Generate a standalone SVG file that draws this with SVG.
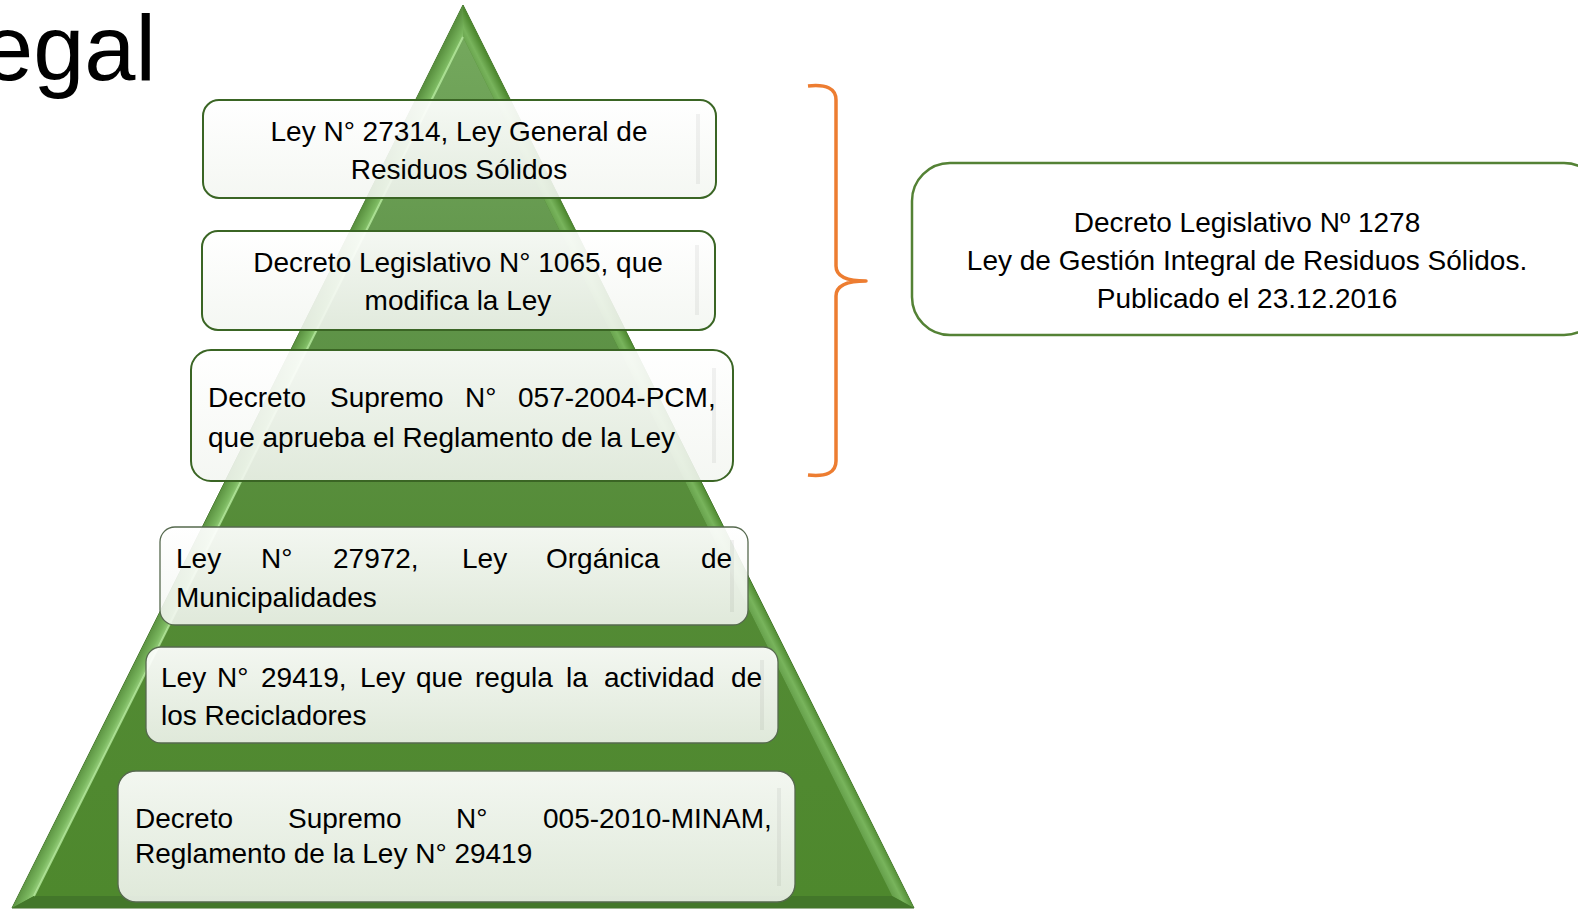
<svg xmlns="http://www.w3.org/2000/svg" width="1578" height="912" viewBox="0 0 1578 912">
<style>
.t{font-family:"Liberation Sans",Arial,sans-serif;font-size:28px;fill:#000}
.c{text-anchor:middle}
.bx{fill:url(#boxFill);stroke:#3a6524;stroke-width:2}
.bx2{fill:url(#boxFill);stroke:#56694e;stroke-width:1.3}
.sh{fill:#000;fill-opacity:0.05}
</style>
<defs>
<linearGradient id="inner" x1="0" y1="37" x2="0" y2="896" gradientUnits="userSpaceOnUse">
<stop offset="0" stop-color="#74a85d"/>
<stop offset="0.3" stop-color="#60944a"/>
<stop offset="0.6" stop-color="#548b36"/>
<stop offset="1" stop-color="#4e882d"/>
</linearGradient>
<linearGradient id="leftF" x1="237.5" y1="456.5" x2="254" y2="464.8" gradientUnits="userSpaceOnUse">
<stop offset="0" stop-color="#5a9140"/>
<stop offset="0.55" stop-color="#79b65e"/>
<stop offset="1" stop-color="#a9de8f"/>
</linearGradient>
<linearGradient id="rightF" x1="688.5" y1="456.5" x2="672" y2="464.8" gradientUnits="userSpaceOnUse">
<stop offset="0" stop-color="#4f8a31"/>
<stop offset="0.45" stop-color="#78b45c"/>
<stop offset="1" stop-color="#5d9643"/>
</linearGradient>
<linearGradient id="boxFill" x1="0" y1="0" x2="0" y2="1">
<stop offset="0" stop-color="#ffffff" stop-opacity="0.93"/>
<stop offset="1" stop-color="#f3f6f1" stop-opacity="0.88"/>
</linearGradient>
</defs>

<g id="title">
<text x="-18" y="80" style="font-family:'Liberation Sans',Arial,sans-serif;font-size:92px;fill:#000">egal</text>
</g>

<g id="pyramid">
<polygon points="463,5 12,908 914,908" fill="#4f8a30" stroke="#3d6b24" stroke-width="1"/>
<polygon points="463,5 12,908 34,896 463,37" fill="url(#leftF)"/>
<polygon points="463,5 463,37 892,896 914,908" fill="url(#rightF)"/>
<polygon points="12,908 914,908 892,896 34,896" fill="#43772a"/>
<polygon points="463,37 34,896 892,896" fill="url(#inner)"/>
<line x1="463" y1="37" x2="34" y2="896" stroke="#b8eba0" stroke-width="2" stroke-opacity="0.8"/>
</g>

<g id="node1">
<rect class="bx" x="203" y="100" width="513" height="98" rx="16"/>
<rect class="sh" x="696" y="114" width="4" height="70"/>
<text class="t c" x="459" y="141">Ley N° 27314, Ley General de</text>
<text class="t c" x="459" y="179">Residuos Sólidos</text>
</g>

<g id="node2">
<rect class="bx" x="202" y="231" width="513" height="99" rx="16"/>
<rect class="sh" x="695" y="245" width="4" height="70"/>
<text class="t c" x="458" y="272">Decreto Legislativo N° 1065, que</text>
<text class="t c" x="458" y="310">modifica la Ley</text>
</g>

<g id="node3">
<rect class="bx" x="191" y="350" width="542" height="131" rx="20"/>
<rect class="sh" x="712" y="368" width="4" height="95"/>
<text class="t" y="407"><tspan x="208">Decreto</tspan><tspan x="330">Supremo</tspan><tspan x="465">N°</tspan><tspan x="518">057-2004-PCM,</tspan></text>
<text class="t" x="208" y="447">que aprueba el Reglamento de la Ley</text>
</g>

<g id="node4">
<rect class="bx2" x="160" y="527" width="588" height="98" rx="15"/>
<rect class="sh" x="730" y="540" width="4" height="72"/>
<text class="t" y="568"><tspan x="176">Ley</tspan><tspan x="261">N°</tspan><tspan x="333">27972,</tspan><tspan x="462">Ley</tspan><tspan x="546">Orgánica</tspan><tspan x="701">de</tspan></text>
<text class="t" x="176" y="607">Municipalidades</text>
</g>

<g id="node5">
<rect class="bx2" x="146" y="647" width="632" height="96" rx="15"/>
<rect class="sh" x="760" y="660" width="4" height="70"/>
<text class="t" y="687"><tspan x="161">Ley</tspan><tspan x="217">N°</tspan><tspan x="261">29419,</tspan><tspan x="360">Ley</tspan><tspan x="416">que</tspan><tspan x="475">regula</tspan><tspan x="566">la</tspan><tspan x="604">actividad</tspan><tspan x="731">de</tspan></text>
<text class="t" x="161" y="725">los Recicladores</text>
</g>

<g id="node6">
<rect class="bx2" x="118" y="771" width="677" height="131" rx="18"/>
<rect class="sh" x="777" y="788" width="4" height="98"/>
<text class="t" y="828"><tspan x="135">Decreto</tspan><tspan x="288">Supremo</tspan><tspan x="456">N°</tspan><tspan x="543">005-2010-MINAM,</tspan></text>
<text class="t" x="135" y="863">Reglamento de la Ley N° 29419</text>
</g>

<g id="node7">
<rect x="912" y="163" width="690" height="172" rx="38" fill="#ffffff" stroke="#548235" stroke-width="2.5"/>
<text class="t c" x="1247" y="232">Decreto Legislativo Nº 1278</text>
<text class="t c" x="1247" y="270">Ley de Gestión Integral de Residuos Sólidos.</text>
<text class="t c" x="1247" y="308">Publicado el 23.12.2016</text>
</g>

<g id="connectors">
<path d="M808,86 Q836,83 836,100 L836,266 Q836,281 866,281 Q836,281 836,296 L836,461 Q836,478 808,475" fill="none" stroke="#ed7d31" stroke-width="3.5" stroke-linejoin="round"/>
</g>
</svg>
